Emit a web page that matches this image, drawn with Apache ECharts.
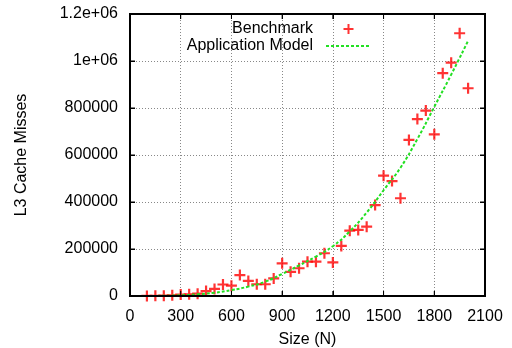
<!DOCTYPE html>
<html>
<head>
<meta charset="utf-8">
<script src="https://cdn.jsdelivr.net/npm/echarts@6/dist/echarts.min.js"></script>
<style>
body{margin:0;}
</style>
</head>
<body>
<div id="c" style="width:512px;height:348px"></div>
<script>
// Benchmark measurements (Size N, L3 cache misses)
const benchSizes = [100,150,200,250,300,350,400,450,500,550,600,650,700,750,800,850,900,950,1000,1050,1100,1150,1200,1250,1300,1350,1400,1450,1500,1550,1600,1650,1700,1750,1800,1850,1900,1950,2000];
const benchMisses = [500,1000,1500,3000,6000,7000,10000,21000,30000,49000,44000,89000,64000,50000,50000,75000,139000,103000,118000,146000,146000,182000,143000,213000,278000,281000,295000,387000,512000,489000,416000,664000,753000,789000,688000,948000,993000,1118000,884000];
// Application model curve
const modelSizes = [100,200,300,400,500,600,700,800,900,1000,1100,1200,1300,1400,1500,1600,1700,1800,1900,2000];
const modelMisses = [0,1000,3000,7000,14000,25000,40000,61000,94000,130000,168000,212000,275000,355000,450000,546000,668000,805000,942000,1086000];
// Axis ticks
const xTicks = [0,300,600,900,1200,1500,1800,2100];
const yTicks = [0,200000,400000,600000,800000,1000000,1200000];

const FONT = 'Liberation Sans, Arial, sans-serif';
const chart = echarts.init(document.getElementById('c'));
const plusPath = 'path://M4,0H6V10H4Z M0,4H10V6H0Z';

const al = {show:true, onZero:false, lineStyle:{color:'#000', width:2}};
const tk = {show:true, inside:true, length:5, lineStyle:{color:'#000', width:1}};
const sp = {show:true, showMinLine:false, showMaxLine:false, lineStyle:{color:'#888', width:1, type:[1,2]}};

chart.setOption({
  animation:false,
  backgroundColor:'#fff',
  grid:{left:130, right:27, top:14, bottom:52, outerBoundsMode:'none', show:true, borderColor:'#000', borderWidth:2},
  legend:{
    orient:'vertical', right:135, top:16, align:'right',
    itemWidth:45, itemHeight:10, itemGap:1,
    textStyle:{fontFamily:FONT, fontSize:16, color:'#000', lineHeight:16, padding:[0,8,0,0]},
    data:[{name:'Benchmark'},{name:'Application Model', itemStyle:{color:'transparent', borderWidth:0, opacity:0}}]
  },
  xAxis:[{
    type:'value', min:xTicks[0], max:xTicks[xTicks.length-1], interval:300,
    name:'Size (N)', nameLocation:'middle', nameGap:36,
    nameTextStyle:{fontFamily:FONT, fontSize:16, color:'#000'},
    axisLine:al, axisTick:tk, splitLine:sp,
    axisLabel:{fontFamily:FONT, fontSize:16, color:'#000', margin:13, formatter:v=>String(v)}
  },{
    type:'value', min:xTicks[0], max:xTicks[xTicks.length-1], interval:300, position:'top',
    axisLine:al, axisTick:tk, axisLabel:{show:false}, splitLine:{show:false}
  }],
  yAxis:[{
    type:'value', min:yTicks[0], max:yTicks[yTicks.length-1], interval:200000,
    name:'L3 Cache Misses', nameLocation:'middle', nameGap:100,
    nameTextStyle:{fontFamily:FONT, fontSize:16, color:'#000'},
    axisLine:al, axisTick:tk, splitLine:sp,
    axisLabel:{fontFamily:FONT, fontSize:16, color:'#000', margin:12,
      formatter:v=>v===0?'0':(v>=1e6?(v/1e6)+'e+06':String(v))}
  },{
    type:'value', min:yTicks[0], max:yTicks[yTicks.length-1], interval:200000, position:'right',
    axisLine:al, axisTick:tk, axisLabel:{show:false}, splitLine:{show:false}
  }],
  series:[{
    name:'Benchmark', type:'scatter', symbol:plusPath, symbolSize:11,
    itemStyle:{color:'#ff0000'},
    data:benchSizes.map((s,i)=>[s, benchMisses[i]])
  },{
    name:'Application Model', type:'line', smooth:true, symbol:'none',
    lineStyle:{color:'#22e022', width:2, type:[3,2]},
    data:modelSizes.map((s,i)=>[s, modelMisses[i]])
  }]
});

// Frame and inward ticks placed through the library's own scales
function px(x, y){ return chart.convertToPixel({xAxisIndex:0, yAxisIndex:0}, [x, y]); }
const x0 = xTicks[0], x1 = xTicks[xTicks.length-1];
const y0 = yTicks[0], y1 = yTicks[yTicks.length-1];
const pA = px(x0, y0), pB = px(x1, y1);
const L = Math.min(pA[0], pB[0]), R = Math.max(pA[0], pB[0]);
const T = Math.min(pA[1], pB[1]), B = Math.max(pA[1], pB[1]);
const g = [{type:'rect', silent:true, z:100,
  shape:{x:L, y:T, width:R-L, height:B-T},
  style:{fill:null, stroke:'#000', lineWidth:2}}];
xTicks.slice(1, -1).forEach(v => {
  const x = px(v, y0)[0];
  g.push({type:'line', silent:true, z:100, shape:{x1:x, y1:B, x2:x, y2:B-5}, style:{stroke:'#000', lineWidth:1}});
  g.push({type:'line', silent:true, z:100, shape:{x1:x, y1:T, x2:x, y2:T+5}, style:{stroke:'#000', lineWidth:1}});
});
yTicks.slice(1, -1).forEach(v => {
  const y = px(x0, v)[1];
  g.push({type:'line', silent:true, z:100, shape:{x1:L, y1:y, x2:L+5, y2:y}, style:{stroke:'#000', lineWidth:1}});
  g.push({type:'line', silent:true, z:100, shape:{x1:R, y1:y, x2:R-5, y2:y}, style:{stroke:'#000', lineWidth:1}});
});
chart.setOption({graphic:g});
</script>
</body>
</html>
